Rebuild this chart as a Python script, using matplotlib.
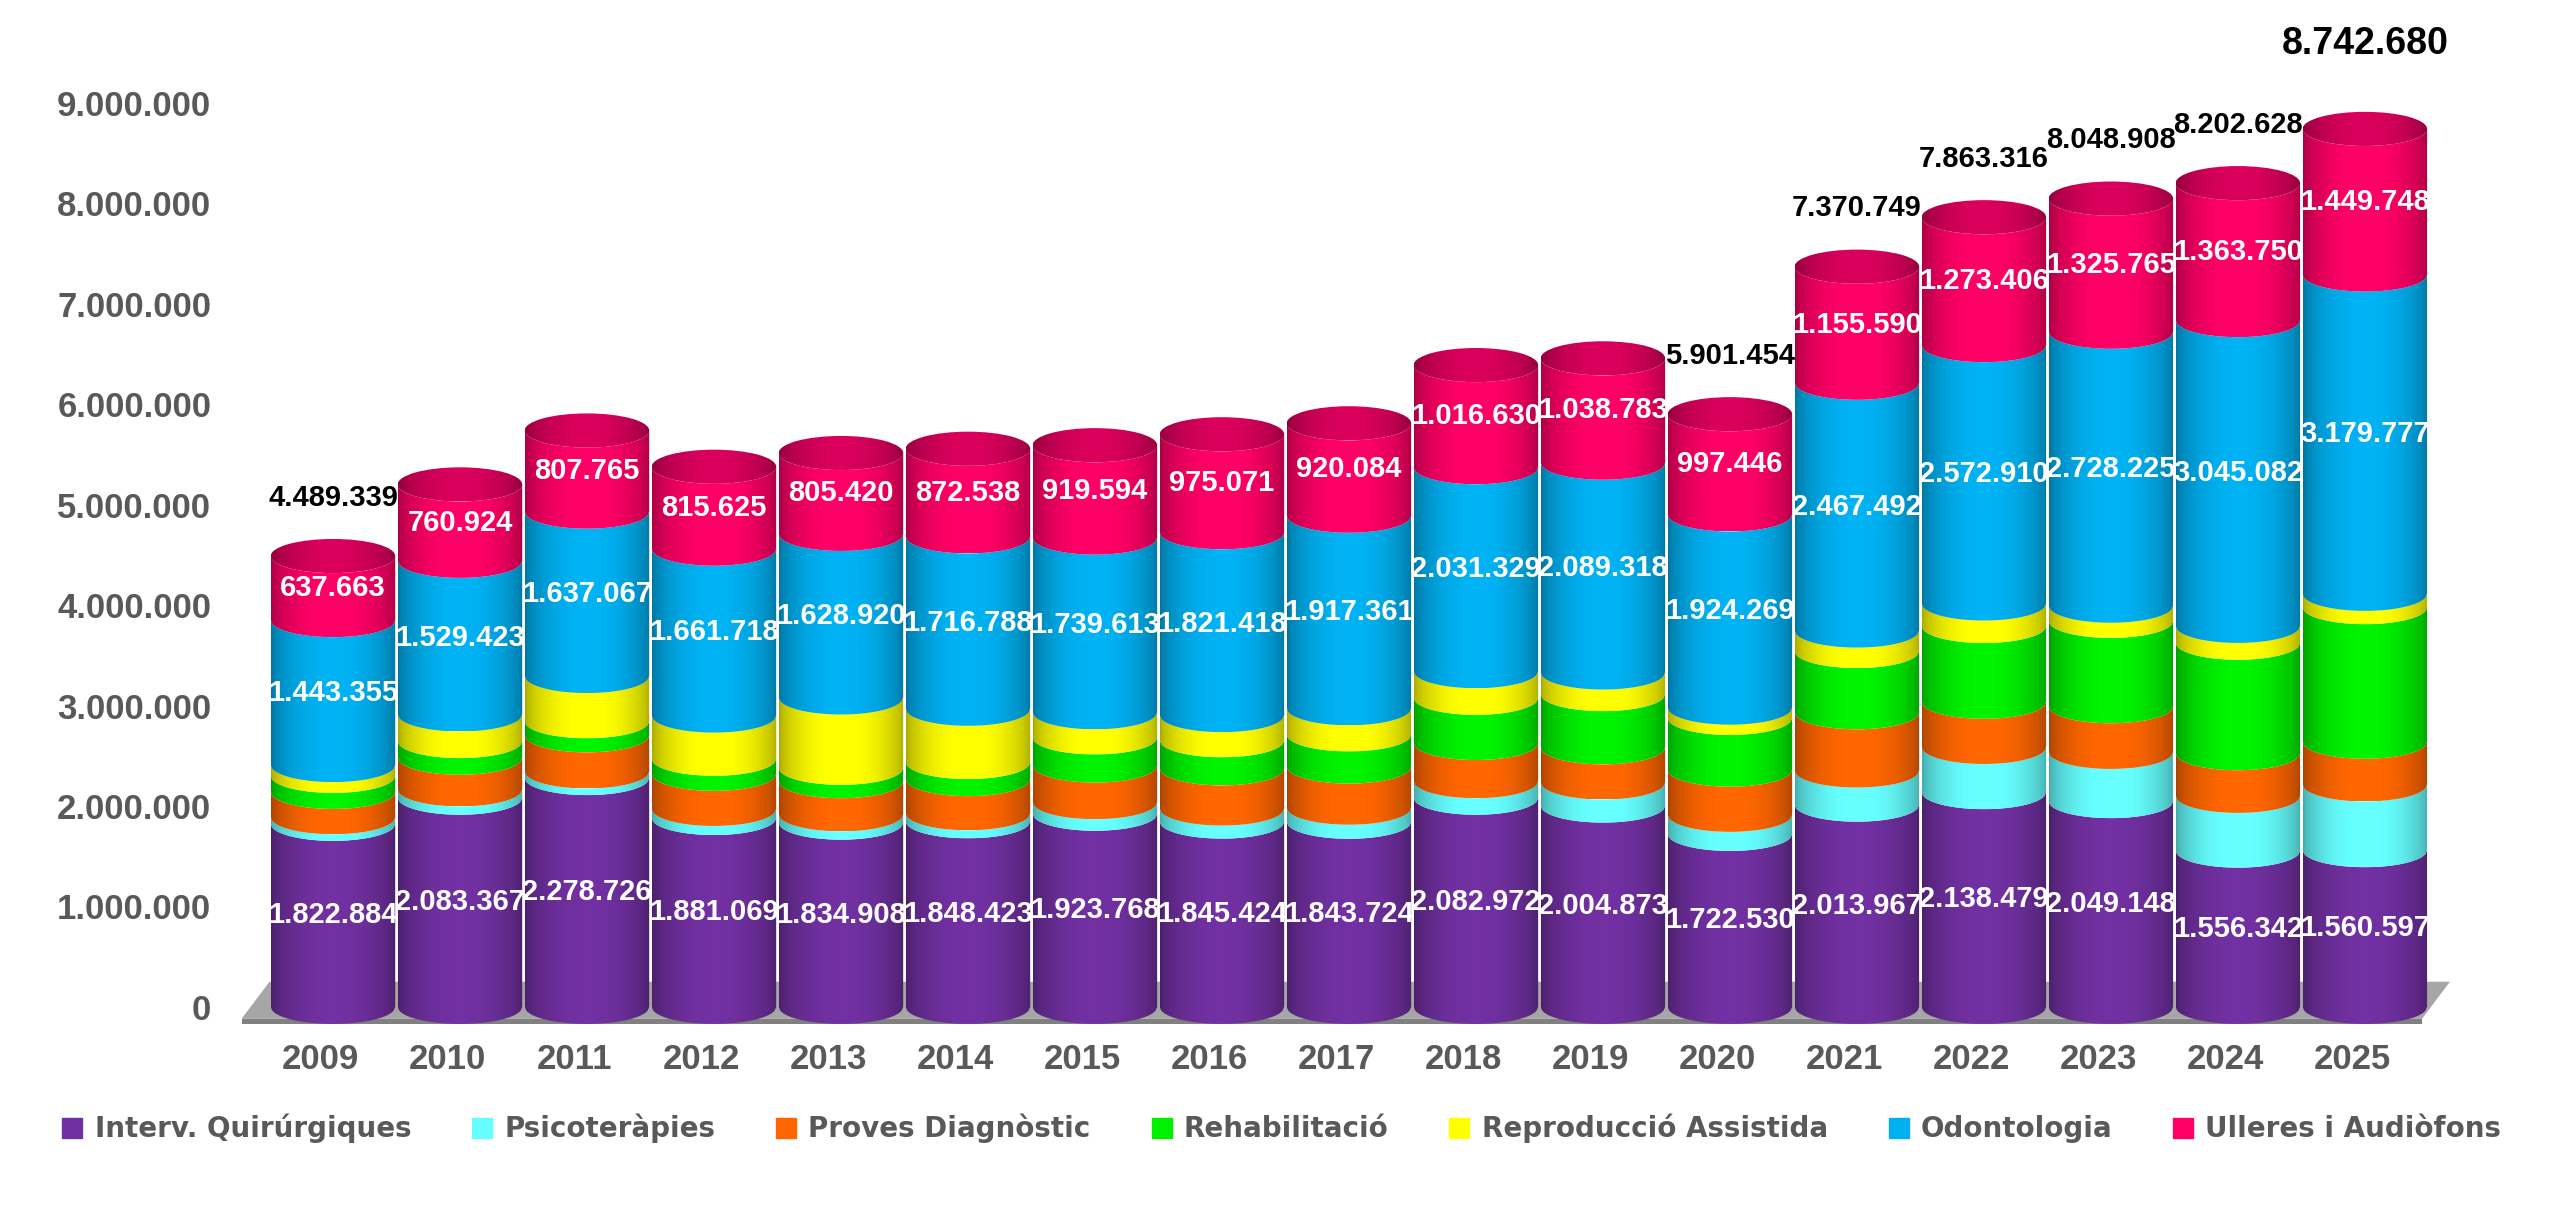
import numpy as np
import matplotlib
matplotlib.use("Agg")
import matplotlib.pyplot as plt
from matplotlib.patches import Polygon, Ellipse
from matplotlib.lines import Line2D
from matplotlib.colors import to_rgb

years = ['2009', '2010', '2011', '2012', '2013', '2014', '2015', '2016', '2017',
         '2018', '2019', '2020', '2021', '2022', '2023', '2024', '2025']

quir = [1822884, 2083367, 2278726, 1881069, 1834908, 1848423, 1923768, 1845424, 1843724,
        2082972, 2004873, 1722530, 2013967, 2138479, 2049148, 1556342, 1560597]
psico = [66000, 83000, 66000, 90000, 83000, 80000, 115000, 130000, 140000,
         165000, 230000, 190000, 340000, 450000, 490000, 545000, 655000]
proves = [252000, 315000, 360000, 350000, 330000, 340000, 365000, 400000, 410000,
          380000, 350000, 450000, 580000, 450000, 455000, 425000, 425000]
rehab = [160000, 166000, 140000, 150000, 133000, 170000, 280000, 280000, 320000,
         450000, 530000, 515000, 610000, 755000, 850000, 1100000, 1340000]
repro = [107437, 265000, 450000, 430000, 700000, 530000, 250000, 250000, 260000,
         265000, 215000, 102209, 203700, 223521, 150770, 167454, 132558]
odonto = [1443355, 1529423, 1637067, 1661718, 1628920, 1716788, 1739613, 1821418, 1917361,
          2031329, 2089318, 1924269, 2467492, 2572910, 2728225, 3045082, 3179777]
ulleres = [637663, 760924, 807765, 815625, 805420, 872538, 919594, 975071, 920084,
           1016630, 1038783, 997446, 1155590, 1273406, 1325765, 1363750, 1449748]
# totals printed above the bars (only some years carry one)
totals = [4489339, None, None, None, None, None, None, None, None,
          None, None, 5901454, 7370749, 7863316, 8048908, 8202628, 8742680]

names = ['Interv. Quirúrgiques', 'Psicoteràpies', 'Proves Diagnòstic', 'Rehabilitació',
         'Reproducció Assistida', 'Odontologia', 'Ulleres i Audiòfons']
colors = ['#7030a0', '#66ffff', '#ff6600', '#00f000', '#ffff00', '#00b0f0', '#ff0066']
series = [quir, psico, proves, rehab, repro, odonto, ulleres]
labelled = [0, 5, 6]


def fmt(v):
    return f"{int(v):,}".replace(',', '.')


def shade(col, n=128):
    t = np.linspace(0, 1, n)
    f = 0.66 + 0.36 * np.sin(np.pi * t) ** 0.6
    rgb = np.array(to_rgb(col))[None, :] * f[:, None]
    return np.clip(rgb, 0, 1)[None, :, :]


fig = plt.figure(figsize=(25.6, 12.24), dpi=100)
ax = fig.add_axes([0.0945, 0.1528, 0.8625, 0.763])

n = len(years)
x = np.arange(n)
w = 0.98
e = 0.17e6
xs = np.linspace(-1, 1, 80)
arc = np.sqrt(1 - xs ** 2)

# floor
ax.add_patch(Polygon([(-0.72, -0.12e6), (16.45, -0.12e6), (16.67, 0.25e6), (-0.5, 0.25e6)],
                     closed=True, facecolor='#a6a6a6', edgecolor='none', zorder=1))
ax.add_patch(Polygon([(-0.72, -0.12e6), (16.45, -0.12e6), (16.45, -0.17e6), (-0.72, -0.17e6)],
                     closed=True, facecolor='#808080', edgecolor='none', zorder=1))

for i in range(n):
    c = x[i]
    px = c + xs * w / 2
    base = 0
    for k, s in enumerate(series):
        v = s[i]
        bot = base - e * arc
        top = base + v - e * arc
        pts = np.vstack([np.column_stack([px, bot]), np.column_stack([px[::-1], top[::-1]])])
        patch = Polygon(pts, closed=True, facecolor='none', edgecolor='none')
        ax.add_patch(patch)
        im = ax.imshow(shade(colors[k]), extent=[c - w / 2, c + w / 2, base - e, base + v],
                       aspect='auto', interpolation='bilinear', zorder=2)
        im.set_clip_path(patch)
        if k in labelled:
            ax.text(c, base + v / 2, fmt(v), color='white', ha='center', va='center',
                    fontsize=21, fontweight='bold', family='Liberation Sans', zorder=5)
        base += v
    # top cap
    cap = Ellipse((c, base), w, 2 * e, facecolor='none', edgecolor='none')
    ax.add_patch(cap)
    im = ax.imshow(shade('#d6005a'), extent=[c - w / 2, c + w / 2, base - e, base + e],
                   aspect='auto', interpolation='bilinear', zorder=3)
    im.set_clip_path(cap)
    if totals[i] is not None:
        big = totals[i] == max(t for t in totals if t is not None)
        ax.text(c, base + (0.85e6 if big else 0.58e6), fmt(totals[i]), color='black',
                ha='center', va='center', fontsize=27 if big else 21, fontweight='bold',
                family='Liberation Sans', zorder=5, clip_on=False)

ax.set_xlim(-0.717, 16.67)
ax.set_ylim(-0.3e6, 9e6)
yt = np.arange(0, 9.0e6 + 1, 1e6)
ax.set_yticks(yt)
ax.set_yticklabels([fmt(v) for v in yt])
ax.set_xticks(x - 0.1)
ax.set_xticklabels(years)
ax.tick_params(length=0)
ax.tick_params(axis='y', pad=22)
ax.tick_params(axis='x', pad=4)
for lab in ax.get_yticklabels() + ax.get_xticklabels():
    lab.set_fontsize(25)
    lab.set_fontweight('bold')
    lab.set_family('Liberation Sans')
    lab.set_color('#595959')
for sp in ax.spines.values():
    sp.set_visible(False)

handles = [Line2D([], [], marker='s', linestyle='none', markersize=14,
                  markerfacecolor=col, markeredgecolor=col) for col in colors]
fig.legend(handles, names, loc='center', bbox_to_anchor=(0.5, 0.078), ncol=7, frameon=False,
           prop=dict(family='DejaVu Sans', weight='bold', size=20), labelcolor='#595959',
           handletextpad=0.3, columnspacing=2.05, handlelength=1.0)

fig.savefig('out.png', dpi=100, facecolor='white')
